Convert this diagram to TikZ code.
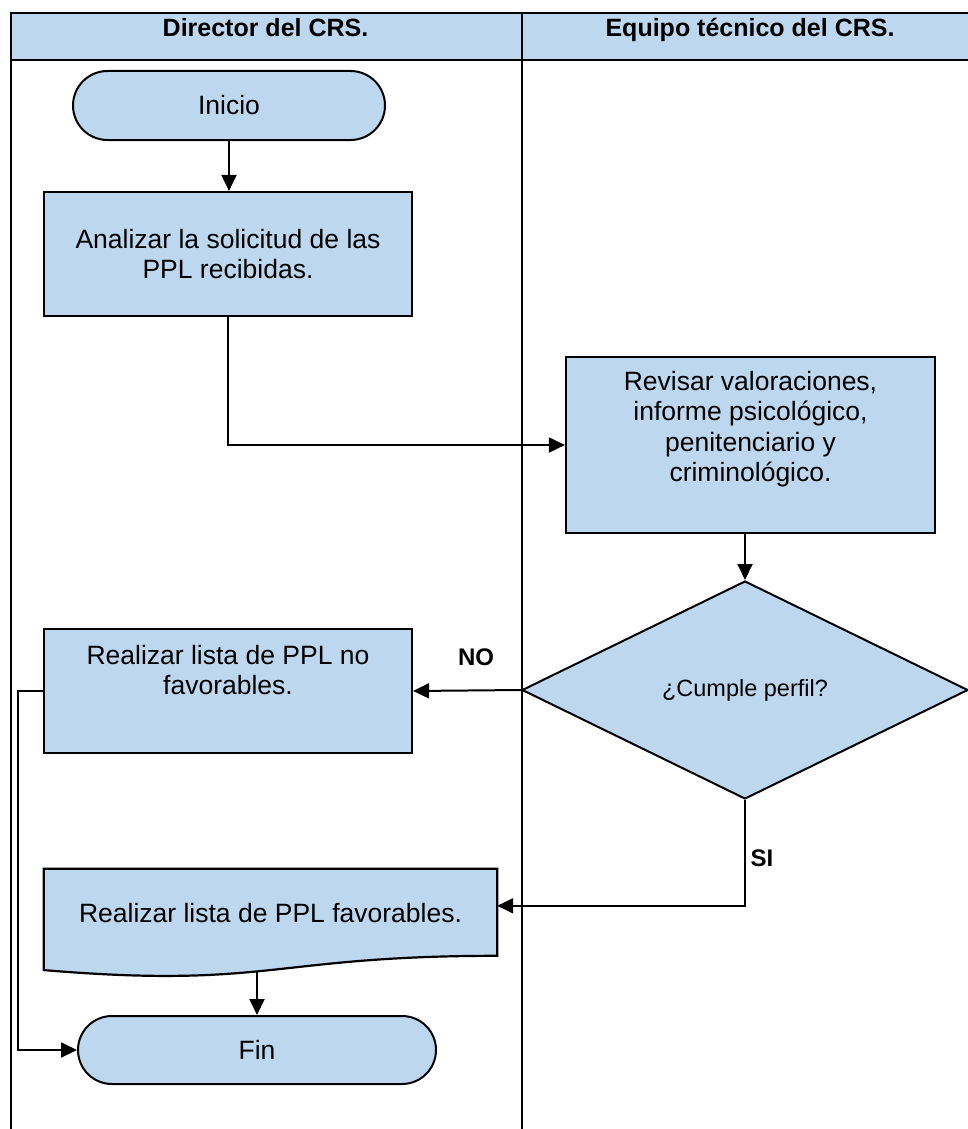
\documentclass[tikz,border=0pt]{standalone}
\usepackage{fontspec}
\setmainfont{Liberation Sans}
\usetikzlibrary{shapes.geometric,shapes.misc,arrows.meta,calc}
\definecolor{fillblue}{RGB}{189,215,238}
\begin{document}
\begin{tikzpicture}[x=1pt,y=-1pt,
  boxstyle/.style={draw=black, line width=2.2pt, fill=fillblue, shape=rectangle, inner sep=0pt},
  docstyle/.style={draw=black, line width=2.2pt, fill=fillblue},
  termstyle/.style={draw=black, line width=2pt, fill=fillblue, rounded rectangle, inner sep=0pt, font=\fontsize{26.5}{30.5}\selectfont},
  decstyle/.style={draw=black, line width=2pt, fill=fillblue, diamond, inner sep=0pt, font=\fontsize{23.5}{27}\selectfont},
  txt/.style={align=center, font=\fontsize{26.5}{30.5}\selectfont, inner sep=0pt},
  head/.style={font=\bfseries\fontsize{25}{29}\selectfont, anchor=base, inner sep=0pt},
  lab/.style={font=\bfseries\fontsize{24}{28}\selectfont, inner sep=0pt},
  conn/.style={line width=2pt, -{Triangle[length=16pt,width=15pt]}},
  grid/.style={line width=2.5pt}]
\useasboundingbox (0,0) rectangle (968,1129);
% swimlane table
\fill[fillblue] (11,13) rectangle (990,60);
\draw[grid] (11,1140) -- (11,13) -- (990,13);
\draw[grid] (11,60) -- (990,60);
\draw[grid] (522,13) -- (522,1140);
\node[head] (h1) at (265.5,37) {Director del CRS.};
\node[head] (h2) at (750,37) {Equipo técnico del CRS.};
% nodes
\node[termstyle, minimum width=312pt, minimum height=69pt] (ini) at (229,105.5) {Inicio};
\node[boxstyle, txt, minimum width=368pt, minimum height=124pt] (b1) at (228,254) {Analizar la solicitud de las\\PPL recibidas.};
\node[boxstyle, minimum width=369pt, minimum height=176pt] (b2) at (750.5,445) {};
\node[txt] (t2) at (750.5,429) {Revisar valoraciones,\\informe psicológico,\\penitenciario y\\criminológico.};
\node[decstyle, minimum width=446pt, minimum height=218pt] (dec) at (745,690) {¿Cumple perfil?};
\node[boxstyle, minimum width=368pt, minimum height=124pt] (b3) at (228,691) {};
\node[txt] (t3) at (228,670) {Realizar lista de PPL no\\favorables.};
\node[minimum width=453pt, minimum height=108.5pt, inner sep=0pt] (b4) at (270.5,923.25) {};
\draw[docstyle] (b4.north west) -- (b4.north east) -- ($(b4.north east)+(0,87)$)
  .. controls ($(b4.north)+(0,87)$) and ($(b4.north)+(0,120.2)$) .. ($(b4.north west)+(0,101.3)$) -- cycle;
\node[txt, anchor=base] (t4) at (270.5,922) {Realizar lista de PPL favorables.};
\node[termstyle, minimum width=358pt, minimum height=68pt] (fin) at (257,1050) {Fin};
\coordinate (b4in) at ($(b4.north east)+(0,37)$);
\coordinate (b4out) at (257,971);
% connectors
\draw[conn] (ini.south) -- (ini.south |- b1.north);
\draw[conn] (b1.south) |- (b2.west);
\draw[conn] (dec.north |- b2.south) -- (dec.north);
\draw[conn] (dec.west) -- (b3.east);
\draw[conn] (dec.south) |- (b4in);
\draw[conn] (b4out) -- (fin.north);
\draw[conn] (b3.west) -- ++(-25,0) |- (fin.west);
% labels
\node[lab] (no) at (476,657) {NO};
\node[lab] (si) at (762,858) {SI};
\end{tikzpicture}
\end{document}
